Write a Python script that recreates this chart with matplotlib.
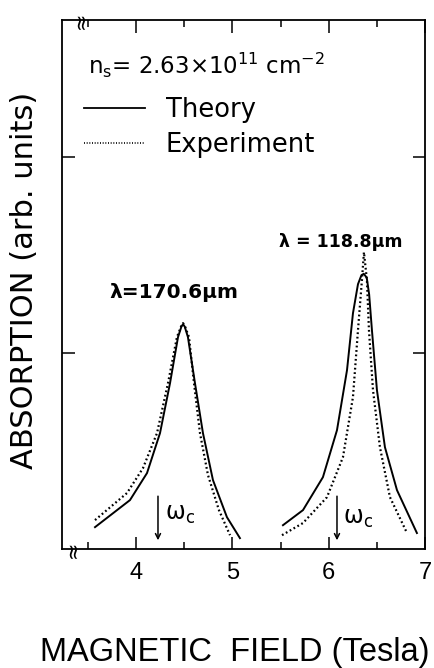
import matplotlib
matplotlib.use("Agg")
import matplotlib.pyplot as plt
from matplotlib.lines import Line2D
from matplotlib.ticker import FixedLocator

# ---- data ----
b1_theory = [3.573, 3.936, 4.113, 4.248, 4.352, 4.435, 4.470, 4.487, 4.505, 4.538, 4.611, 4.694, 4.798, 4.943, 5.078]
a1_theory = [0.112, 0.250, 0.388, 0.592, 0.847, 1.082, 1.135, 1.148, 1.135, 1.082, 0.847, 0.592, 0.352, 0.163, 0.056]
b1_exp = [3.573, 3.905, 4.071, 4.217, 4.331, 4.424, 4.470, 4.487, 4.505, 4.549, 4.601, 4.663, 4.746, 4.860, 4.975]
a1_exp = [0.148, 0.286, 0.413, 0.592, 0.847, 1.082, 1.140, 1.153, 1.140, 1.082, 0.847, 0.592, 0.378, 0.199, 0.071]

b2_theory = [5.525, 5.733, 5.940, 6.086, 6.190, 6.252, 6.304, 6.340, 6.365, 6.395, 6.420, 6.449, 6.501, 6.584, 6.709, 6.916]
a2_theory = [0.122, 0.199, 0.367, 0.607, 0.913, 1.204, 1.352, 1.398, 1.405, 1.385, 1.300, 1.117, 0.811, 0.520, 0.301, 0.082]
b2_exp = [5.515, 5.733, 5.982, 6.148, 6.252, 6.304, 6.345, 6.366, 6.397, 6.418, 6.460, 6.532, 6.636, 6.813]
a2_exp = [0.071, 0.133, 0.265, 0.469, 0.776, 1.117, 1.372, 1.515, 1.372, 1.117, 0.811, 0.520, 0.265, 0.082]

wc_positions = [4.227, 6.086]
peak_labels = ["λ=170.6μm", "λ = 118.8μm"]
x_major = [4, 5, 6, 7]
x_minor = [3.5, 4.5, 5.5, 6.5]
y_ticks = [1, 2]

fig = plt.figure(figsize=(4.35, 6.68), dpi=100)
ax = fig.add_axes([0.1425, 0.178, 0.977 - 0.1425, 0.970 - 0.178])

dotted = (0, (0.8, 1.2))
ax.plot(b1_theory, a1_theory, color="black", lw=1.4, ls="-")
ax.plot(b1_exp, a1_exp, color="black", lw=1.6, ls=dotted)
ax.plot(b2_theory, a2_theory, color="black", lw=1.4, ls="-")
ax.plot(b2_exp, a2_exp, color="black", lw=1.6, ls=dotted)

ax.set_xlim(3.23, 7.0)
ax.set_ylim(0, 2.70)

ax.xaxis.set_major_locator(FixedLocator(x_major))
ax.xaxis.set_minor_locator(FixedLocator(x_minor))
ax.yaxis.set_major_locator(FixedLocator(y_ticks))
ax.yaxis.set_minor_locator(FixedLocator([]))
ax.tick_params(axis="both", which="major", direction="in", length=9, width=1.1,
               top=True, right=True, labelsize=17, pad=9)
ax.tick_params(axis="both", which="minor", direction="in", length=5, width=1.1,
               top=True, right=True)
ax.set_yticklabels([])
ax.set_xticklabels([str(v) for v in x_major], fontfamily="Liberation Sans")
for s in ax.spines.values():
    s.set_linewidth(1.3)

fig.text(40 / 435, 1 - 652 / 668, "MAGNETIC  FIELD (Tesla)", fontsize=23.5,
         fontfamily="Liberation Sans", ha="left", va="center")
fig.text(25 / 435, 1 - 280 / 668, "ABSORPTION (arb. units)", fontsize=22,
         fontfamily="DejaVu Sans", rotation=90, ha="center", va="center")

# density annotation
ax.text(0.072, 1 - (65 - 20) / 529,
        "n$_\\mathregular{s}$= 2.63×10$^\\mathregular{11}$ cm$^\\mathregular{-2}$",
        transform=ax.transAxes, ha="left", va="center", fontsize=16.5,
        fontfamily="DejaVu Sans")

# legend
h_theory = Line2D([], [], color="black", lw=1.3, ls="-")
h_exp = Line2D([], [], color="black", lw=1.2, ls=(0, (0.6, 1.0)))
leg = ax.legend([h_theory, h_exp], ["Theory", "Experiment"], loc="upper left",
                bbox_to_anchor=(0.028, 0.877), frameon=False, handlelength=2.4,
                handletextpad=0.8, labelspacing=0.36, borderaxespad=0.0,
                borderpad=0.45,
                prop={"family": "DejaVu Sans", "size": 18.5})

# peak labels
ax.text(4.393, 1.31, peak_labels[0], ha="center", va="center", fontsize=14.5,
        fontweight="bold", fontfamily="DejaVu Sans")
ax.text(6.127, 1.565, peak_labels[1], ha="center", va="center", fontsize=12.5,
        fontweight="bold", fontfamily="DejaVu Sans")

# omega_c markers
for xw, dx, yt in zip(wc_positions, [0.07, 0.06], [0.18, 0.16]):
    ax.annotate("", xy=(xw, 0.045), xytext=(xw, 0.27),
                arrowprops=dict(arrowstyle="->", color="black", lw=1.1,
                                shrinkA=0, shrinkB=0, mutation_scale=9))
    ax.text(xw + dx, yt, "ω$_\\mathregular{c}$", ha="left", va="center", fontsize=17,
            fontfamily="DejaVu Sans")

# axis-break marks
for xx, yy in ((0.03, 0.0), (0.05, 1.0)):
    ax.text(xx, yy, "≈", transform=ax.transAxes, rotation=90, ha="center",
            va="center", fontsize=15, fontfamily="DejaVu Sans")

fig.savefig("out.png", dpi=100)
